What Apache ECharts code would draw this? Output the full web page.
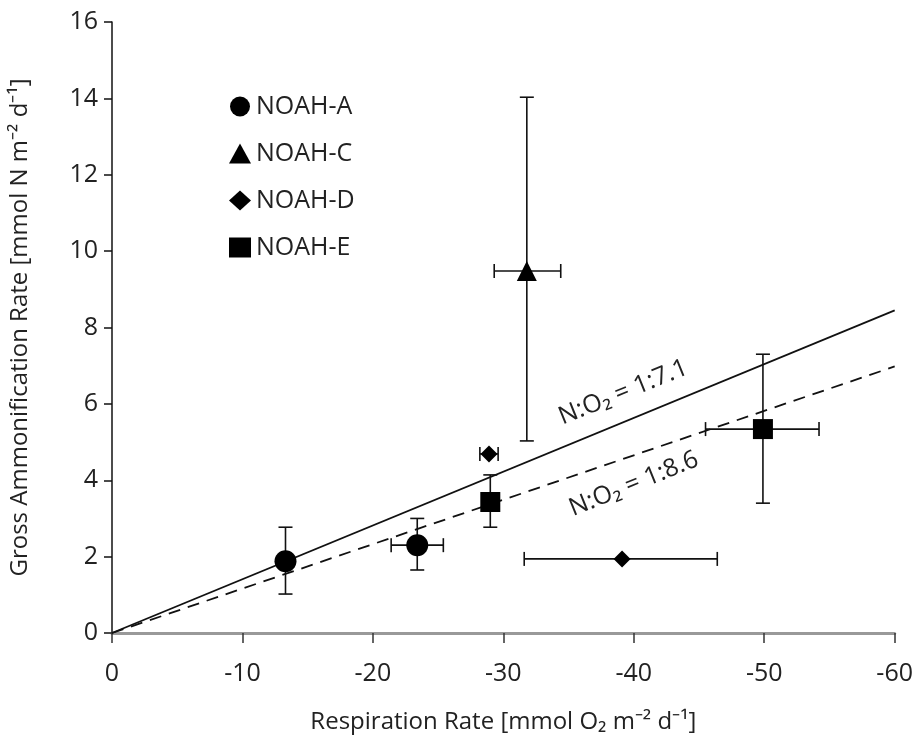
<!DOCTYPE html>
<html>
<head>
<meta charset="UTF-8" />
<title>N:O2 ratio scatter</title>
<script src="https://cdn.jsdelivr.net/npm/echarts@6/dist/echarts.min.js"></script>
<style>
  html, body { margin: 0; padding: 0; background: #fff; }
  #chart { width: 916px; height: 742px; }
</style>
</head>
<body>
<div id="chart"></div>
<script>
// [x, y, xLow, xHigh, yLow, yHigh]  (null = no bar)
var noahA = [
  [-13.3, 1.88, null, null, 1.02, 2.77],
  [-23.4, 2.30, -21.4, -25.4, 1.65, 3.00]
];
var noahC = [
  [-31.8, 9.48, -29.3, -34.4, 5.03, 14.03]
];
var noahD = [
  [-28.9, 4.69, -28.2, -29.6, null, null],
  [-39.1, 1.94, -31.6, -46.4, null, null]
];
var noahE = [
  [-29.0, 3.43, null, null, 2.77, 4.14],
  [-49.9, 5.34, -45.5, -54.2, 3.40, 7.30]
];
var lineSolid = [[0, 0], [-60, 8.45]];
var lineDashed = [[0, 0], [-60, 6.98]];
var lineLabels = [
  { name: 'N:O₂ = 1:7.1', at: [-39.2, 6.3] },
  { name: 'N:O₂ = 1:8.6', at: [-40.0, 3.9] }
];

var font = 'Open Sans';
var chart = echarts.init(document.getElementById('chart'));

function errorBars(rows) {
  return {
    type: 'custom',
    silent: true,
    z: 2,
    data: rows,
    renderItem: function (params, api) {
      var cap = 7;
      var kids = [];
      var style = { stroke: '#111', lineWidth: 1.6 };
      var c = api.coord([api.value(0), api.value(1)]);
      var x0 = api.value(2), x1 = api.value(3);
      var y0 = api.value(4), y1 = api.value(5);
      if (!isNaN(x0) && x0 !== null) {
        var l = api.coord([x0, api.value(1)]);
        var r = api.coord([x1, api.value(1)]);
        kids.push({ type: 'line', shape: { x1: l[0], y1: c[1], x2: r[0], y2: c[1] }, style: style });
        kids.push({ type: 'line', shape: { x1: l[0], y1: c[1] - cap, x2: l[0], y2: c[1] + cap }, style: style });
        kids.push({ type: 'line', shape: { x1: r[0], y1: c[1] - cap, x2: r[0], y2: c[1] + cap }, style: style });
      }
      if (!isNaN(y0) && y0 !== null) {
        var b = api.coord([api.value(0), y0]);
        var t = api.coord([api.value(0), y1]);
        kids.push({ type: 'line', shape: { x1: c[0], y1: b[1], x2: c[0], y2: t[1] }, style: style });
        kids.push({ type: 'line', shape: { x1: c[0] - cap, y1: b[1], x2: c[0] + cap, y2: b[1] }, style: style });
        kids.push({ type: 'line', shape: { x1: c[0] - cap, y1: t[1], x2: c[0] + cap, y2: t[1] }, style: style });
      }
      return { type: 'group', children: kids };
    }
  };
}

function points(name, rows, symbol, size) {
  return {
    name: name,
    type: 'scatter',
    symbol: symbol,
    symbolSize: size,
    z: 3,
    itemStyle: { color: '#000', opacity: 1 },
    data: rows.map(function (r) { return [r[0], r[1]]; })
  };
}

var option = {
  animation: false,
  backgroundColor: '#fff',
  textStyle: { fontFamily: font, color: '#222' },
  grid: { left: 112, right: 21, top: 22, bottom: 109 },
  legend: {
    orient: 'vertical',
    left: 224,
    top: 89,
    itemGap: 22,
    itemWidth: 22,
    itemHeight: 20,
    selectedMode: false,
    textStyle: { fontSize: 25, fontFamily: font, color: '#222', padding: [0, 0, 0, 0] },
    data: [
      { name: 'NOAH-A', icon: 'circle' },
      { name: 'NOAH-C', icon: 'triangle' },
      { name: 'NOAH-D', icon: 'diamond' },
      { name: 'NOAH-E', icon: 'rect' }
    ]
  },
  xAxis: {
    type: 'value',
    min: -60,
    max: 0,
    interval: 10,
    inverse: true,
    name: 'Respiration Rate [mmol O₂ m⁻² d⁻¹]',
    nameLocation: 'middle',
    nameGap: 77,
    nameTextStyle: { fontSize: 24, fontFamily: font, color: '#222' },
    splitLine: { show: false },
    axisLine: { onZero: false, lineStyle: { color: '#999', width: 3 } },
    axisTick: { show: true, length: 10, lineStyle: { color: '#333', width: 1.5 } },
    axisLabel: { fontSize: 25, margin: 28, color: '#222' }
  },
  yAxis: {
    type: 'value',
    min: 0,
    max: 16,
    interval: 2,
    name: 'Gross Ammonification Rate [mmol N m⁻² d⁻¹]',
    nameLocation: 'middle',
    nameGap: 80,
    nameTextStyle: { fontSize: 24, fontFamily: font, color: '#222' },
    splitLine: { show: false },
    axisLine: { show: true, lineStyle: { color: '#111', width: 1.5 } },
    axisTick: { show: true, length: 8, lineStyle: { color: '#111', width: 1.5 } },
    axisLabel: { fontSize: 25, margin: 14, color: '#222' }
  },
  series: [
    {
      type: 'line',
      data: lineSolid,
      symbol: 'none',
      silent: true,
      z: 1,
      lineStyle: { color: '#111', width: 1.8 }
    },
    {
      type: 'line',
      data: lineDashed,
      symbol: 'none',
      silent: true,
      z: 1,
      lineStyle: { color: '#111', width: 1.8, type: [12, 8] }
    },
    {
      type: 'scatter',
      silent: true,
      symbolSize: 0,
      itemStyle: { opacity: 1 },
      data: lineLabels.map(function (d) { return { name: d.name, value: d.at }; }),
      label: {
        show: true,
        position: 'inside',
        formatter: '{b}',
        rotate: 22,
        fontSize: 25,
        fontFamily: font,
        color: '#222'
      }
    },
    errorBars(noahA),
    errorBars(noahC),
    errorBars(noahD),
    errorBars(noahE),
    points('NOAH-A', noahA, 'circle', 22),
    points('NOAH-C', noahC, 'triangle', 20),
    points('NOAH-D', noahD, 'diamond', 17),
    points('NOAH-E', noahE, 'rect', 20)
  ]
};

chart.setOption(option);
</script>
</body>
</html>
